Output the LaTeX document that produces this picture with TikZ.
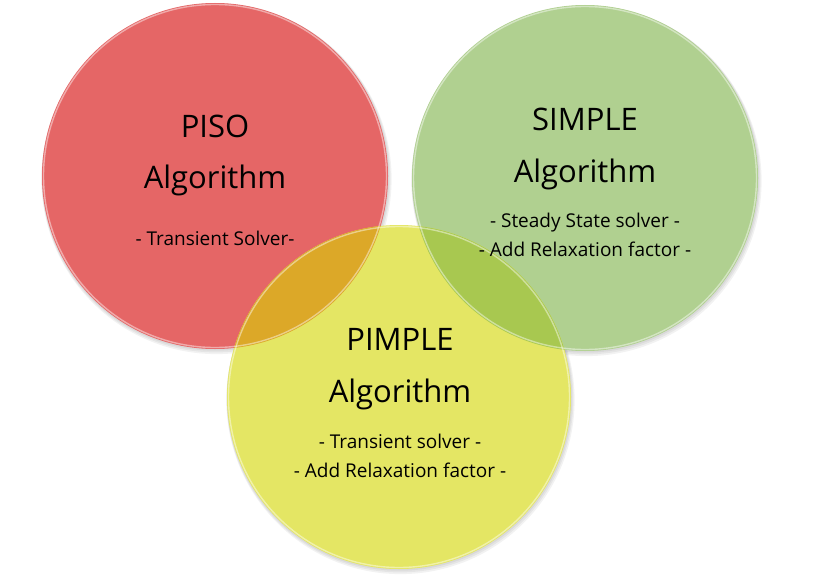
\documentclass[tikz,border=0pt]{standalone}
\usepackage{fontspec}
\setmainfont{Open Sans}
\definecolor{redc}{RGB}{229,102,102}
\definecolor{greenc}{RGB}{176,208,144}
\definecolor{yellowc}{RGB}{228,230,100}
\definecolor{orangec}{RGB}{220,168,40}
\definecolor{limec}{RGB}{168,200,80}
\tikzset{
  title/.style={font=\fontsize{31}{36}\selectfont, anchor=base, inner sep=0pt},
  sub/.style={font=\fontsize{19}{22}\selectfont, anchor=base, inner sep=0pt},
  rim/.style={draw=white, draw opacity=0.45, line width=1.4pt},
  shade/.style={fill=black, fill opacity=0.05}
}
\begin{document}
\begin{tikzpicture}[x=1pt,y=-1pt]
\useasboundingbox (0,0) rectangle (826,575);
\fill[white] (0,0) rectangle (826,575);
% soft shadows
\foreach \d in {1,2,3}{
  \fill[shade] (215+\d*0.5,176+\d) circle (173+\d*0.7);
  \fill[shade] (585+\d*0.5,178+\d) circle (173+\d*0.7);
  \fill[shade] (399+\d*0.5,397+\d) circle (172+\d*0.7);
}
% circles
\fill[redc] (215,176) circle (173);
\fill[greenc] (585,178) circle (173);
\fill[yellowc] (399,397) circle (172);
\begin{scope}
  \clip (399,397) circle (172);
  \fill[orangec] (215,176) circle (173);
  \fill[limec] (585,178) circle (173);
\end{scope}
% rims
\draw[rim] (215,176) circle (171.5);
\draw[rim] (399,397) circle (170.5);
\draw[rim] (585,178) circle (171.5);
% texts
\node[title] (pisoT) at (215,137) {PISO};
\node[title] (pisoA) at (215,188) {Algorithm};
\node[sub] (pisoS) at (215,245) {- Transient Solver-};
\node[title] (simT) at (585,130) {SIMPLE};
\node[title] (simA) at (585,182) {Algorithm};
\node[sub] (simS1) at (585,227) {- Steady State solver -};
\node[sub] (simS2) at (585,256) {- Add Relaxation factor -};
\node[title] (pimT) at (400,350) {PIMPLE};
\node[title] (pimA) at (400,402) {Algorithm};
\node[sub] (pimS1) at (400,448) {- Transient solver -};
\node[sub] (pimS2) at (400,477) {- Add Relaxation factor -};
\end{tikzpicture}
\end{document}
